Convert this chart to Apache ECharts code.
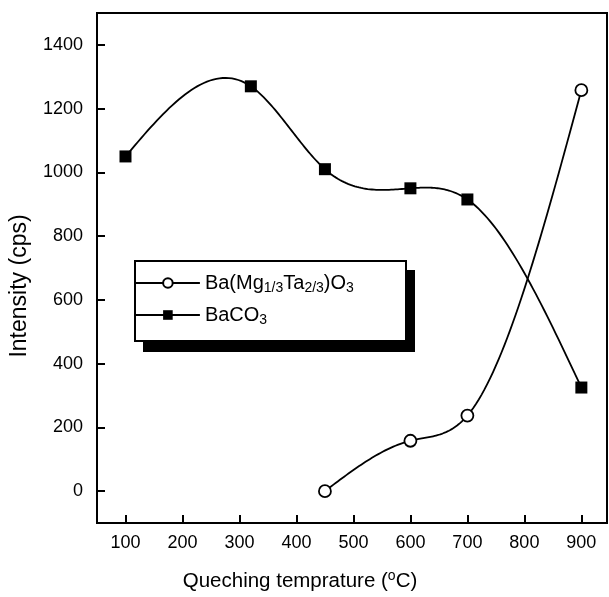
<!DOCTYPE html>
<html>
<head>
<meta charset="utf-8">
<script src="https://cdn.jsdelivr.net/npm/echarts@6/dist/echarts.min.js"></script>
<style>html,body{margin:0;padding:0;background:#fff}#c{width:609px;height:597px}</style>
</head>
<body>
<div id="c"></div>
<script>
const tempBMT = [450, 600, 700, 900];
const valBMT = [0, 158, 237, 1258];
const tempBaCO3 = [100, 320, 450, 600, 700, 900];
const valBaCO3 = [1050, 1270, 1010, 950, 915, 325];
const xTicks = [100, 200, 300, 400, 500, 600, 700, 800, 900];
const yTicks = [0, 200, 400, 600, 800, 1000, 1200, 1400];

const FONT = '"Liberation Sans", Arial, sans-serif';
const chart = echarts.init(document.getElementById('c'), null, {renderer: 'canvas'});
const pairs = (xs, ys) => xs.map((x, i) => [x, ys[i]]);

// natural cubic spline (how the original plotting program connected the points)
function naturalSpline(xs, ys) {
  const n = xs.length, h = [], M = new Array(n).fill(0);
  for (let i = 0; i < n - 1; i++) h.push(xs[i + 1] - xs[i]);
  if (n > 2) {
    const a = [], b = [], c = [], d = [];
    for (let i = 1; i < n - 1; i++) {
      a.push(h[i - 1]); b.push(2 * (h[i - 1] + h[i])); c.push(h[i]);
      d.push(6 * ((ys[i + 1] - ys[i]) / h[i] - (ys[i] - ys[i - 1]) / h[i - 1]));
    }
    const m = b.length;
    for (let i = 1; i < m; i++) {
      const w = a[i] / b[i - 1];
      b[i] -= w * c[i - 1]; d[i] -= w * d[i - 1];
    }
    const sol = new Array(m);
    sol[m - 1] = d[m - 1] / b[m - 1];
    for (let i = m - 2; i >= 0; i--) sol[i] = (d[i] - c[i] * sol[i + 1]) / b[i];
    for (let i = 0; i < m; i++) M[i + 1] = sol[i];
  }
  return function (i, x) {
    const hi = h[i], x0 = xs[i], x1 = xs[i + 1];
    return M[i] * Math.pow(x1 - x, 3) / (6 * hi) + M[i + 1] * Math.pow(x - x0, 3) / (6 * hi)
      + (ys[i] / hi - M[i] * hi / 6) * (x1 - x) + (ys[i + 1] / hi - M[i + 1] * hi / 6) * (x - x0);
  };
}

function splineSeries(xs, ys) {
  const f = naturalSpline(xs, ys);
  return {
    type: 'custom', data: pairs(xs, ys), z: 3, silent: true,
    renderItem: function (params, api) {
      const i = params.dataIndex;
      if (i >= xs.length - 1) return null;
      const pts = [];
      const N = 40;
      for (let k = 0; k <= N; k++) {
        const x = xs[i] + (xs[i + 1] - xs[i]) * k / N;
        pts.push(api.coord([x, f(i, x)]));
      }
      return {type: 'polyline', shape: {points: pts}, style: {stroke: '#000', lineWidth: 1.8, fill: null}};
    }
  };
}

chart.setOption({
  animation: false,
  backgroundColor: '#fff',
  grid: {left: 97, right: 2, top: 13, bottom: 74, show: true, borderColor: '#000', borderWidth: 2, backgroundColor: 'transparent'},
  xAxis: {
    type: 'value', min: 50, max: 945, interval: 100,
    axisLine: {show: true, onZero: false, lineStyle: {color: '#000', width: 2}},
    axisTick: {show: true, inside: true, length: 8, lineStyle: {color: '#000', width: 2}, customValues: xTicks},
    axisLabel: {color: '#000', fontSize: 18, fontFamily: FONT, margin: 11, customValues: xTicks, formatter: v => String(v)},
    splitLine: {show: false},
    name: '{n|Queching temprature (}{sup|o}{n|C)}',
    nameLocation: 'middle', nameGap: 46,
    nameTextStyle: {padding: [0, 104, 0, 0], rich: {
      n: {fontSize: 20.5, fontFamily: FONT, color: '#000', lineHeight: 24},
      sup: {fontSize: 14, fontFamily: FONT, color: '#000', lineHeight: 12, verticalAlign: 'top'}
    }}
  },
  yAxis: {
    type: 'value', min: -100, max: 1500, interval: 100,
    axisLine: {show: true, onZero: false, lineStyle: {color: '#000', width: 2}},
    axisTick: {show: true, inside: true, length: 8, lineStyle: {color: '#000', width: 2}, customValues: yTicks},
    axisLabel: {color: '#000', fontSize: 18, fontFamily: FONT, margin: 14, customValues: yTicks, formatter: v => String(v)},
    splitLine: {show: false},
    name: 'Intensity (cps)', nameLocation: 'middle', nameGap: 66,
    nameTextStyle: {fontSize: 23, fontFamily: FONT, color: '#000', padding: [0, 36, 0, 0]}
  },
  legend: {
    orient: 'vertical', left: 135, top: 273, itemWidth: 64, itemHeight: 12, itemGap: 10, padding: 0,
    data: ['BMT', 'BaCO3'],
    lineStyle: {color: '#000', width: 1.8, opacity: 1},
    formatter: function (name) {
      return name === 'BMT' ? '{n|Ba(Mg}{s|1/3}{n|Ta}{s|2/3}{n|)O}{s|3}' : '{n|BaCO}{s|3}';
    },
    textStyle: {rich: {
      n: {fontSize: 20, fontFamily: FONT, color: '#000', lineHeight: 24},
      s: {fontSize: 14, fontFamily: FONT, color: '#000', lineHeight: 10, verticalAlign: 'bottom'}
    }}
  },
  graphic: [
    {type: 'rect', z: 0, shape: {x: 143, y: 270, width: 272, height: 82}, style: {fill: '#000'}},
    {type: 'rect', z: 1, shape: {x: 135, y: 261, width: 271, height: 80}, style: {fill: '#fff', stroke: '#000', lineWidth: 2}}
  ],
  series: [
    splineSeries(tempBMT, valBMT),
    splineSeries(tempBaCO3, valBaCO3),
    {
      name: 'BMT', type: 'line', data: pairs(tempBMT, valBMT),
      symbol: 'circle', symbolSize: 12,
      itemStyle: {color: '#fff', borderColor: '#000', borderWidth: 1.8},
      lineStyle: {color: '#000', width: 1.8, opacity: 0}, z: 5
    },
    {
      name: 'BaCO3', type: 'line', data: pairs(tempBaCO3, valBaCO3),
      symbol: 'rect', symbolSize: 12,
      itemStyle: {color: '#000', borderColor: '#000', borderWidth: 0},
      lineStyle: {color: '#000', width: 1.8, opacity: 0}, z: 5
    }
  ]
});
</script>
</body>
</html>
